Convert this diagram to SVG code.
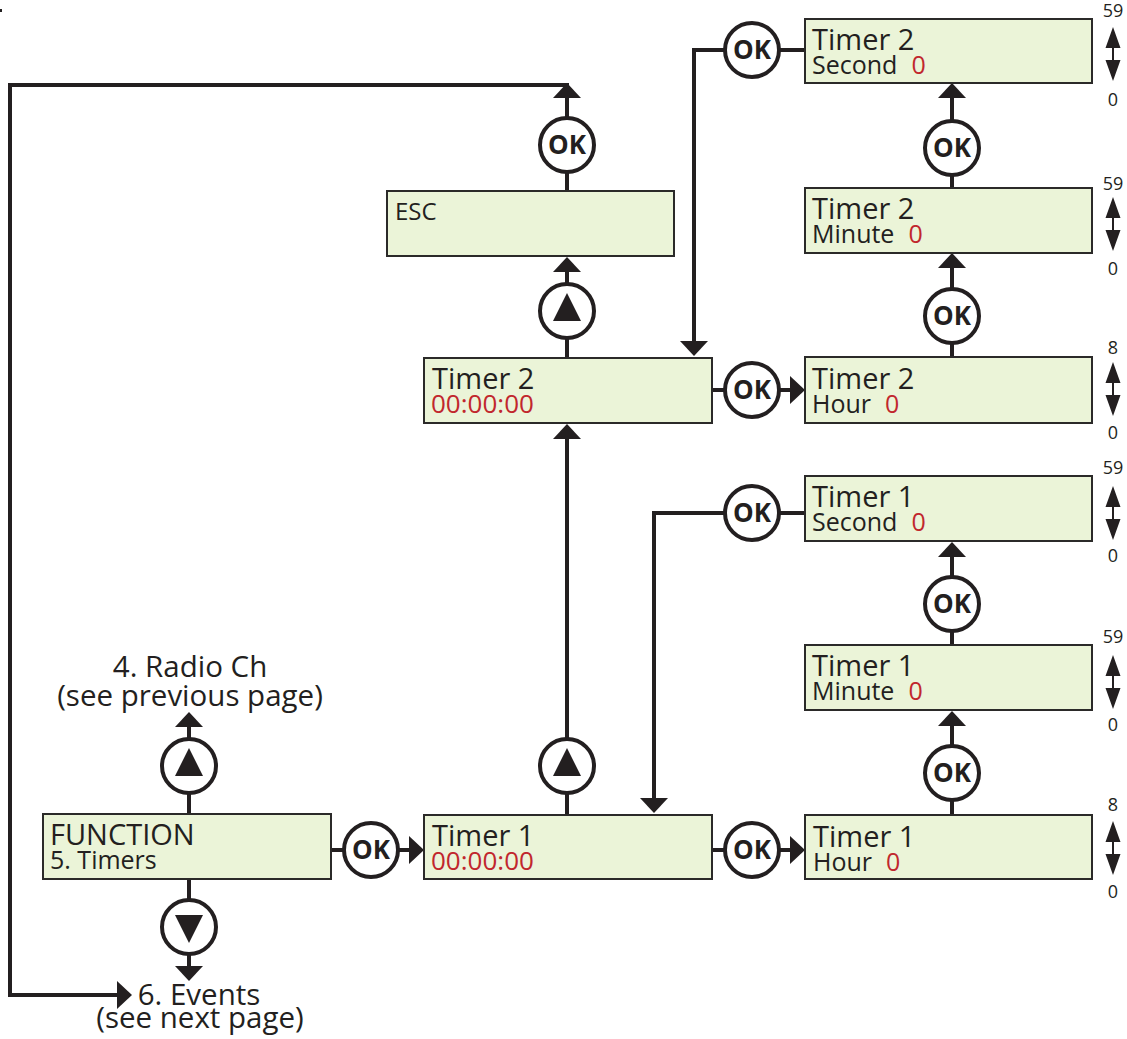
<svg xmlns="http://www.w3.org/2000/svg" xmlns:xlink="http://www.w3.org/1999/xlink" width="1127" height="1039" viewBox="0 0 1127 1039">
<style>
.box{fill:#ebf4d8;stroke:#2b2a29;stroke-width:2}
.t1{font-family:"Open Sans","Noto Sans",sans-serif;font-size:29px;fill:#231f20}
.t2{font-family:"Open Sans","Noto Sans",sans-serif;font-size:25px;fill:#231f20}
.red{fill:#c1272d}
.lbl{font-family:"Open Sans","Noto Sans",sans-serif;font-size:29.5px;fill:#231f20;text-anchor:middle}
.rng{font-family:"Open Sans","Noto Sans",sans-serif;font-size:18px;fill:#231f20;text-anchor:middle}
.ok{font-family:"Open Sans","Noto Sans",sans-serif;font-size:26px;font-weight:700;fill:#231f20;text-anchor:middle}
.circ{fill:#fff;stroke:#231f20;stroke-width:4}
.ln{fill:none;stroke:#231f20;stroke-width:4}
.tri{fill:#231f20}
</style>
<defs>
<marker id="ah" viewBox="0 0 15 28" refX="0" refY="14" markerWidth="15" markerHeight="28" markerUnits="userSpaceOnUse" orient="auto">
<path d="M0,0 L15,14 L0,28 z" fill="#231f20"/>
</marker>
<g id="range">
<path d="M0,-27 L7.5,-6 L-7.5,-6 z M0,27 L7.5,6 L-7.5,6 z" fill="#231f20"/>
<line x1="0" y1="-7" x2="0" y2="7" stroke="#231f20" stroke-width="2"/>
</g>
</defs>
<rect x="0" y="9" width="2" height="3" fill="#231f20"/>

<g id="connectors">
<line class="ln" x1="567" y1="191" x2="567" y2="172"/>
<line class="ln" x1="567" y1="118" x2="567" y2="98" marker-end="url(#ah)"/>
<polyline class="ln" points="569,85 10,85 10,995 117,995" marker-end="url(#ah)"/>
<line class="ln" x1="567" y1="358" x2="567" y2="338"/>
<line class="ln" x1="567" y1="284" x2="567" y2="272" marker-end="url(#ah)"/>
<line class="ln" x1="567" y1="815" x2="567" y2="793"/>
<line class="ln" x1="567" y1="739" x2="567" y2="439" marker-end="url(#ah)"/>
<line class="ln" x1="189" y1="814" x2="189" y2="793"/>
<line class="ln" x1="189" y1="739" x2="189" y2="727" marker-end="url(#ah)"/>
<line class="ln" x1="189" y1="879" x2="189" y2="900"/>
<line class="ln" x1="189" y1="954" x2="189" y2="966" marker-end="url(#ah)"/>
<line class="ln" x1="331" y1="850" x2="344" y2="850"/>
<line class="ln" x1="398" y1="850" x2="409" y2="850" marker-end="url(#ah)"/>
<line class="ln" x1="712" y1="850" x2="725" y2="850"/>
<line class="ln" x1="779" y1="850" x2="790" y2="850" marker-end="url(#ah)"/>
<line class="ln" x1="712" y1="390" x2="725" y2="390"/>
<line class="ln" x1="779" y1="390" x2="790" y2="390" marker-end="url(#ah)"/>
<line class="ln" x1="805" y1="50" x2="779" y2="50"/>
<polyline class="ln" points="725,50 694,50 694,341" marker-end="url(#ah)"/>
<line class="ln" x1="805" y1="513" x2="779" y2="513"/>
<polyline class="ln" points="725,513 654,513 654,798" marker-end="url(#ah)"/>
<line class="ln" x1="952" y1="357" x2="952" y2="343"/>
<line class="ln" x1="952" y1="289" x2="952" y2="268" marker-end="url(#ah)"/>
<line class="ln" x1="952" y1="188" x2="952" y2="175"/>
<line class="ln" x1="952" y1="121" x2="952" y2="98" marker-end="url(#ah)"/>
<line class="ln" x1="952" y1="815" x2="952" y2="800"/>
<line class="ln" x1="952" y1="746" x2="952" y2="726" marker-end="url(#ah)"/>
<line class="ln" x1="952" y1="645" x2="952" y2="631"/>
<line class="ln" x1="952" y1="577" x2="952" y2="557" marker-end="url(#ah)"/>
</g>

<g id="esc"><rect class="box" x="387" y="191" width="287" height="65"/><text class="t2" x="395" y="220" style="font-size:24px">ESC</text></g>
<g id="timer2"><rect class="box" x="424" y="358" width="288" height="65"/><text class="t1" x="432" y="389">Timer 2</text><text class="t2 red" x="431" y="413" style="font-size:26px">00:00:00</text></g>
<g id="timer1"><rect class="box" x="424" y="815" width="288" height="64"/><text class="t1" x="432" y="846">Timer 1</text><text class="t2 red" x="431" y="870" style="font-size:26px">00:00:00</text></g>
<g id="function"><rect class="box" x="43" y="814" width="288" height="65"/><text class="t1" x="50" y="845">FUNCTION</text><text class="t2" x="50" y="869">5. Timers</text></g>

<g id="t2second"><rect class="box" x="805" y="19" width="287" height="64"/><text class="t1" x="812" y="50">Timer 2</text><text class="t2" x="812" y="74">Second<tspan class="red" dx="14">0</tspan></text>
<text class="rng" x="1113" y="17">59</text><use xlink:href="#range" x="1113" y="54"/><text class="rng" x="1113" y="106">0</text></g>
<g id="t2minute"><rect class="box" x="805" y="188" width="287" height="65"/><text class="t1" x="812" y="219">Timer 2</text><text class="t2" x="812" y="243">Minute<tspan class="red" dx="14">0</tspan></text>
<text class="rng" x="1113" y="190">59</text><use xlink:href="#range" x="1113" y="224"/><text class="rng" x="1113" y="275">0</text></g>
<g id="t2hour"><rect class="box" x="805" y="357" width="287" height="66"/><text class="t1" x="812" y="389">Timer 2</text><text class="t2" x="812" y="413">Hour<tspan class="red" dx="14">0</tspan></text>
<text class="rng" x="1113" y="354">8</text><use xlink:href="#range" x="1113" y="389"/><text class="rng" x="1113" y="439">0</text></g>
<g id="t1second"><rect class="box" x="805" y="476" width="287" height="65"/><text class="t1" x="812" y="507">Timer 1</text><text class="t2" x="812" y="531">Second<tspan class="red" dx="14">0</tspan></text>
<text class="rng" x="1113" y="474">59</text><use xlink:href="#range" x="1113" y="513"/><text class="rng" x="1113" y="562">0</text></g>
<g id="t1minute"><rect class="box" x="805" y="645" width="287" height="65"/><text class="t1" x="812" y="676">Timer 1</text><text class="t2" x="812" y="700">Minute<tspan class="red" dx="14">0</tspan></text>
<text class="rng" x="1113" y="643">59</text><use xlink:href="#range" x="1113" y="682"/><text class="rng" x="1113" y="731">0</text></g>
<g id="t1hour"><rect class="box" x="805" y="815" width="287" height="64"/><text class="t1" x="813" y="847">Timer 1</text><text class="t2" x="813" y="871">Hour<tspan class="red" dx="14">0</tspan></text>
<text class="rng" x="1113" y="811">8</text><use xlink:href="#range" x="1113" y="848"/><text class="rng" x="1113" y="898">0</text></g>

<g id="ok-esc"><circle class="circ" cx="567" cy="145" r="27"/><text class="ok" x="567" y="154">OK</text></g>
<g id="up-timer2"><circle class="circ" cx="567" cy="311" r="27"/><path class="tri" d="M567,293 L581,321 L553,321 z"/></g>
<g id="up-timer1"><circle class="circ" cx="567" cy="766" r="27"/><path class="tri" d="M567,748 L581,776 L553,776 z"/></g>
<g id="up-func"><circle class="circ" cx="189" cy="766" r="27"/><path class="tri" d="M189,748 L203,776 L175,776 z"/></g>
<g id="down-func"><circle class="circ" cx="189" cy="927" r="27"/><path class="tri" d="M189,943 L203,915 L175,915 z"/></g>
<g id="ok-func"><circle class="circ" cx="371" cy="850" r="27"/><text class="ok" x="371" y="859">OK</text></g>
<g id="ok-t1"><circle class="circ" cx="752" cy="850" r="27"/><text class="ok" x="752" y="859">OK</text></g>
<g id="ok-t2"><circle class="circ" cx="752" cy="390" r="27"/><text class="ok" x="752" y="399">OK</text></g>
<g id="ok-t2s"><circle class="circ" cx="752" cy="50" r="27"/><text class="ok" x="752" y="59">OK</text></g>
<g id="ok-t1s"><circle class="circ" cx="752" cy="513" r="27"/><text class="ok" x="752" y="522">OK</text></g>
<g id="ok-t2m"><circle class="circ" cx="952" cy="148" r="27"/><text class="ok" x="952" y="157">OK</text></g>
<g id="ok-t2h"><circle class="circ" cx="952" cy="316" r="27"/><text class="ok" x="952" y="325">OK</text></g>
<g id="ok-t1m"><circle class="circ" cx="952" cy="604" r="27"/><text class="ok" x="952" y="613">OK</text></g>
<g id="ok-t1h"><circle class="circ" cx="952" cy="773" r="27"/><text class="ok" x="952" y="782">OK</text></g>

<g id="radio"><text class="lbl" x="190" y="677">4. Radio Ch</text><text class="lbl" x="190" y="706">(see previous page)</text></g>
<g id="events"><text class="lbl" x="199" y="1005">6. Events</text><text class="lbl" x="200" y="1028">(see next page)</text></g>
</svg>
